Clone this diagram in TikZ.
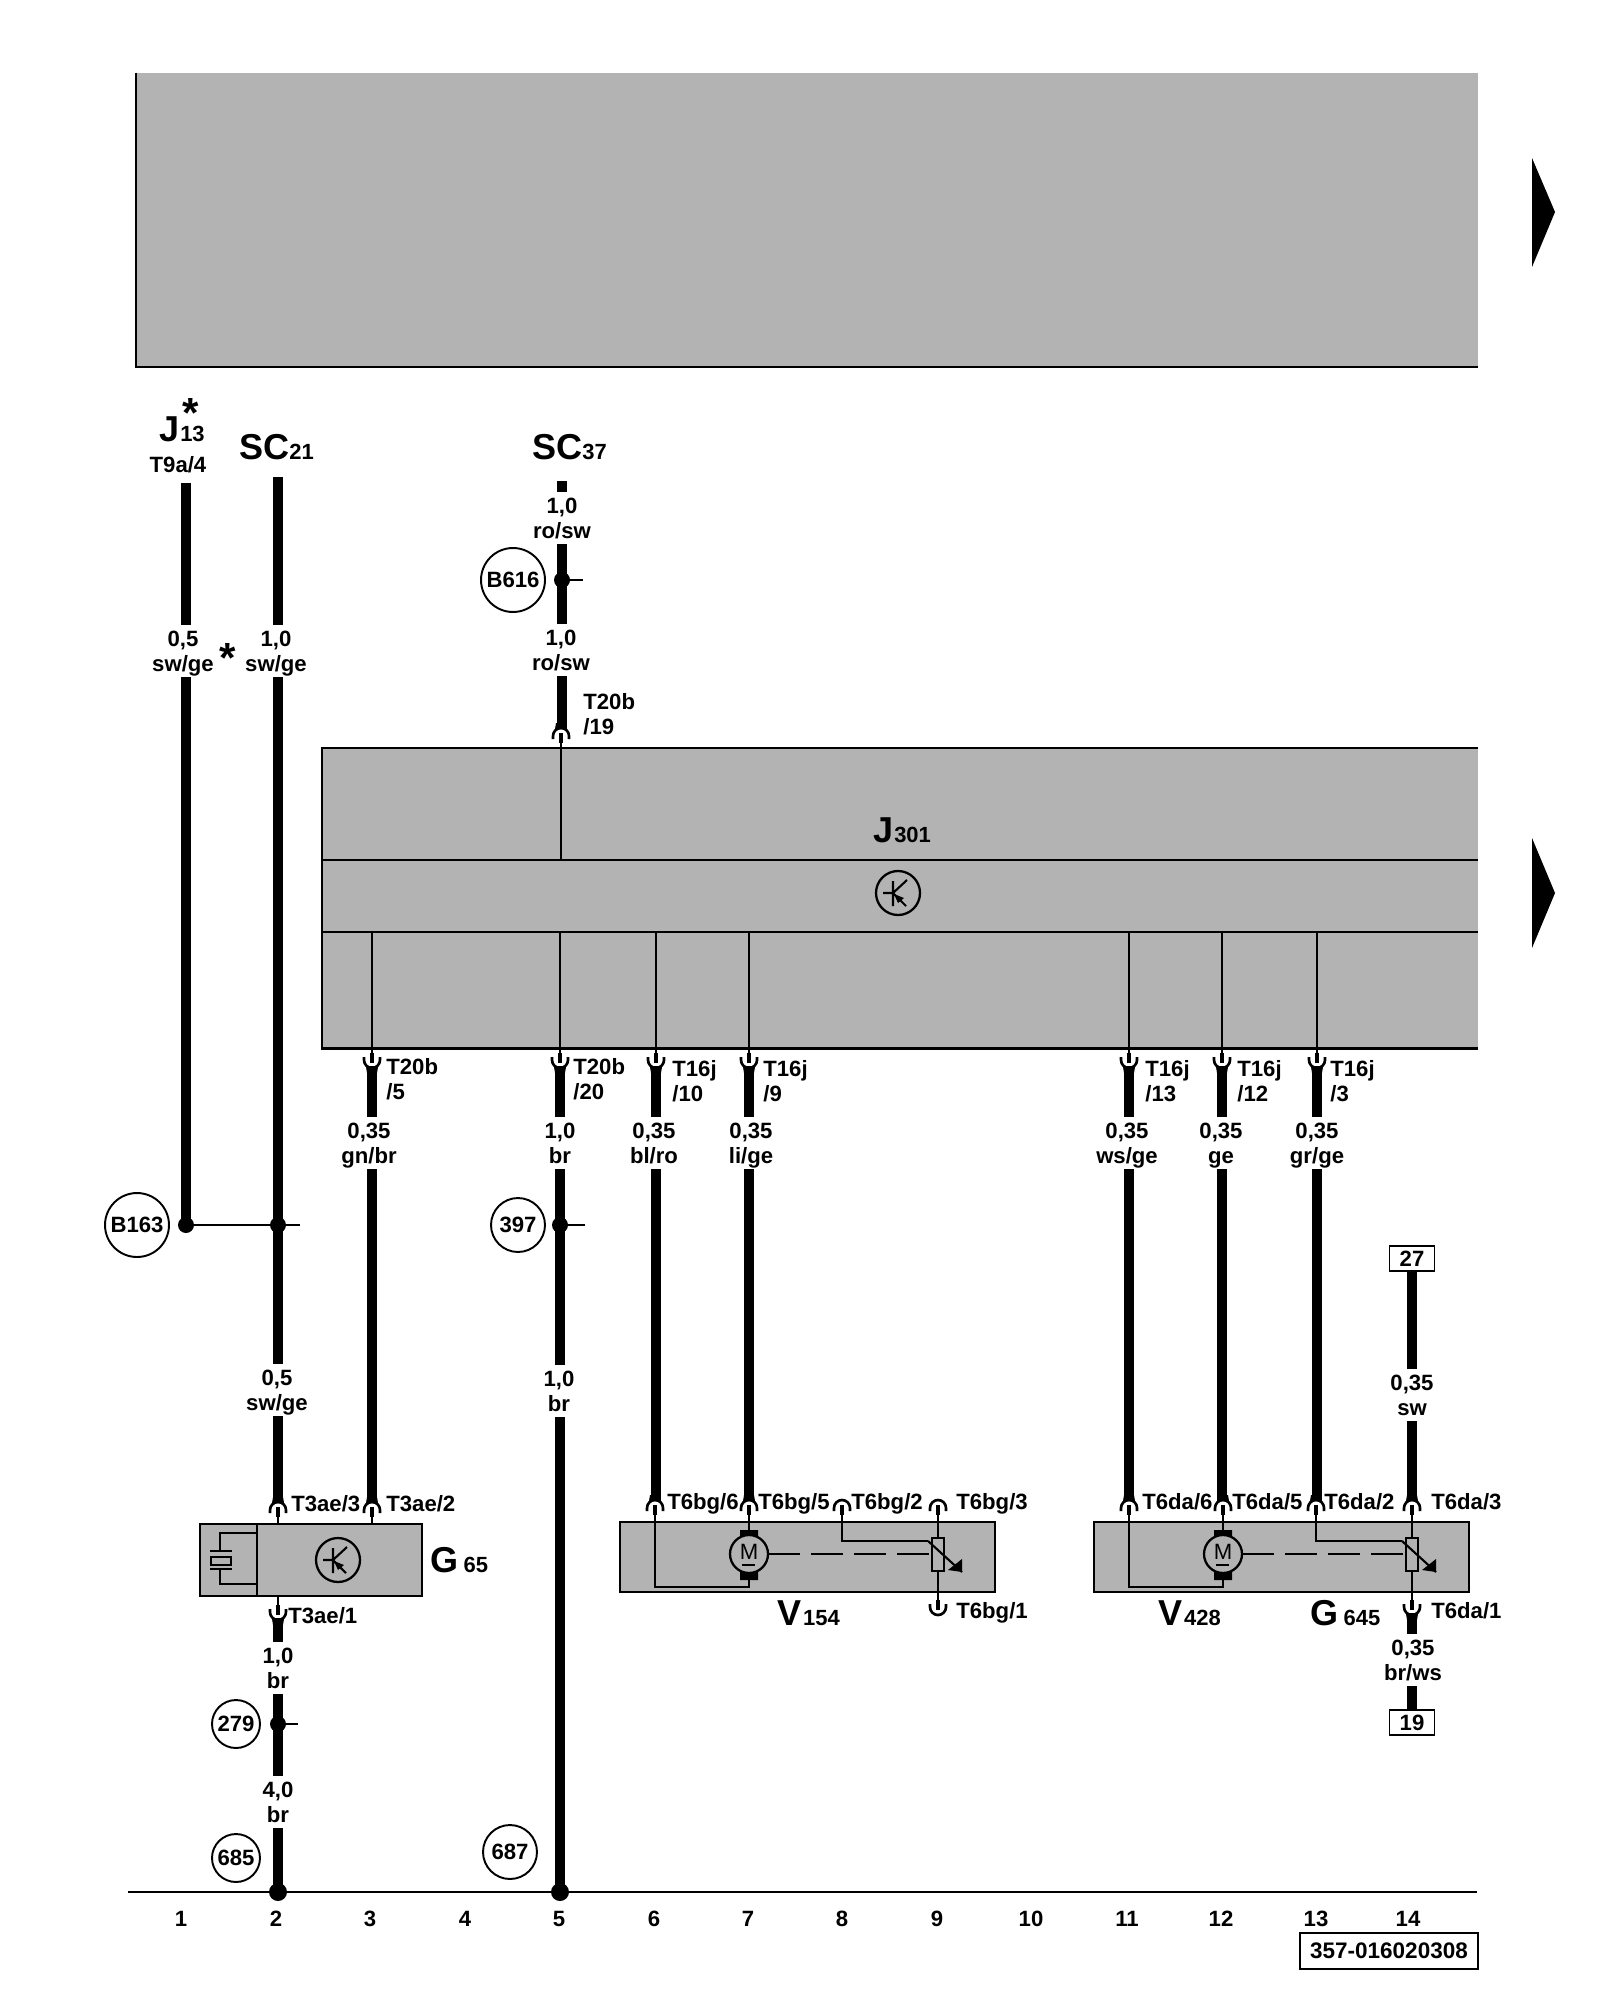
\documentclass[tikz,border=0pt]{standalone}
\usepackage{fontspec}
\setmainfont{Liberation Sans}
\definecolor{boxgray}{HTML}{B3B3B3}
\newcommand{\namefont}{\fontsize{20.5}{22}\selectfont}
\newcommand{\subfont}{\fontsize{12.5}{14}\selectfont}
\tikzset{
    every node/.style = {font=\bfseries\fontsize{12.6}{14.2}\selectfont, inner sep=0, align=center},
    thinline/.style = {line width=1.2pt, black},
    wire/.style = {line width=5.8pt, black},
    pinline/.style = {line width=2.3pt, black},
    dot/.style = {circle, fill=black, minimum size=#1*0.04cm},
    tag/.style = {circle, draw, line width=1.1pt, minimum size=#1*0.04cm},
    wirelab/.style = {fill=white, text height=26.2pt, text depth=3pt},
    pinlab/.style = {anchor=base west},
    compbox/.style = {draw, line width=1.3pt, fill=boxgray},
    starlab/.style = {anchor=base, font=\bfseries\fontsize{24}{24}\selectfont},
    sockettop/.pic = {
        \draw [pinline] (0, -3) -- (0, 7);
        \draw [line width=1.5pt] (-8, 3) -- (-8, 0) arc [start angle=180, end angle=0, radius=0.16cm] -- (8, 3);
    },
    socketbot/.pic = {
        \draw [pinline] (0, 3) -- (0, -7);
        \draw [line width=1.5pt] (-8, -3) -- (-8, 0) arc [start angle=180, end angle=360, radius=0.16cm] -- (8, -3);
    },
    flaretop/.pic = {
        \fill (-6, -7) -- (6, -7) -- (5, -13) -- (-5, -13) -- cycle;
    },
    flarebot/.pic = {
        \fill (-6, 7) -- (6, 7) -- (5, 13) -- (-5, 13) -- cycle;
    },
    transistor/.pic = {
        \draw [line width=1.3pt] (0, 0) circle [radius=0.44cm];
        \draw [thinline] (-15, 0) -- (-5, 0) (-5, -12) -- (-5, 13) (-5, 0) -- (9, -13) (-5, 0) -- (8, 13);
        \fill (-4, 1) -- (6, 5) -- (0, 10) -- cycle;
    },
    motor/.pic = {
        \fill (-9, -24) rectangle (9, -16) (-9, 18) rectangle (9, 26);
        \draw [line width=1.3pt, fill=boxgray] (0, 0) circle [radius=0.38cm];
        \node [font=\fontsize{12.6}{14}\selectfont] at (0, -2) {M};
        \draw [thinline] (-7, 11) -- (6, 11);
    },
    sensor/.pic = {
        \draw [thinline] (-6, -16) rectangle (6, 17);
        \draw [thinline] (-10, -13) -- (24, 18);
        \fill (10, 16) -- (24, 18) -- (24, 5) -- cycle;
    }
}
\begin{document}
\begin{tikzpicture}[x=0.02cm, y=-0.02cm]
    \useasboundingbox (0, 0) rectangle (1600, 2000);

    \node [fill=boxgray, minimum width=1342*0.02cm, minimum height=294*0.02cm] (topbox) at (807, 220) {};
    \draw [thinline, line width=1.3pt] (topbox.north west) -- (topbox.south west) -- (topbox.south east);
    \node [fill=boxgray, minimum width=1156*0.02cm, minimum height=300*0.02cm] (j301) at (900, 898) {};
    \draw [thinline, line width=1.3pt] (j301.north east) -- (j301.north west) -- (j301.south west) -- (j301.south east);
    \coordinate (rowal) at (322, 860);
    \coordinate (rowar) at (1478, 860);
    \coordinate (rowbl) at (322, 932);
    \coordinate (rowbr) at (1478, 932);
    \draw [thinline, line width=1.3pt] (rowal) -- (rowar) (rowbl) -- (rowbr);
    \node [pinlab, font=\bfseries\namefont] (j301name) at (873, 842) {J\kern0.5pt{\subfont 301}};
    \pic at (898, 893) {transistor};

    \fill (1532, 158) -- (1555, 212) -- (1532, 267) -- cycle;
    \fill (1532, 838) -- (1555, 893) -- (1532, 948) -- cycle;

    \node [pinlab, font=\bfseries\namefont] (j13) at (159, 441) {J\kern0.5pt{\subfont 13}};
    \node [starlab] (stara) at (191, 427) {*};
    \node (t9a) at (178, 465) {T9a/4};
    \node [pinlab, font=\bfseries\namefont] (sc21) at (239, 459) {SC{\subfont 21}};
    \node [pinlab, font=\bfseries\namefont] (sc37) at (532, 459) {SC{\subfont 37}};
    \node [starlab] (starb) at (228, 672) {*};

    \coordinate (w1top) at (186, 483);
    \coordinate (w2top) at (278, 477);
    \coordinate (w2end) at (278, 1501);
    \coordinate (w2low) at (278, 1618);
    \coordinate (w2gnd) at (278, 1892);
    \coordinate (s37top) at (562, 481);
    \coordinate (s37end) at (562, 729);
    \node [dot=8] (w1dot) at (186, 1225) {};
    \draw [wire] (w1top) -- (w1dot.center);
    \draw [wire] (w2top) -- (w2end);
    \draw [wire] (w2low) -- (w2gnd);
    \draw [wire] (s37top) -- (s37end);

    \foreach \n/\x/\y/\txt in {
        la/183/651/{0,5\\sw/ge},
        lb/276/651/{1,0\\sw/ge},
        lc/277/1390/{0,5\\sw/ge},
        ld/278/1668/{1,0\\br},
        le/278/1802/{4,0\\br},
        lf/562/518/{1,0\\ro/sw},
        lg/561/650/{1,0\\ro/sw}} {
        \node [wirelab] (\n) at (\x, \y) {\txt};
    }

    \foreach \n/\x/\lx/\txt/\tx/\ty/\ta/\tb in {
        w3/372/369/{0,35\\gn/br}/386/1074.5/T20b/{/5},
        w5/560/560/{1,0\\br}/573/1074.5/T20b/{/20},
        w6/656/654/{0,35\\bl/ro}/672/1076.5/T16j/{/10},
        w7/749/751/{0,35\\li/ge}/763/1076.5/T16j/{/9},
        w11/1129/1127/{0,35\\ws/ge}/1145/1076.5/T16j/{/13},
        w12/1222/1221/{0,35\\ge}/1237/1076.5/T16j/{/12},
        w13/1317/1317/{0,35\\gr/ge}/1330/1076.5/T16j/{/3}} {
        \coordinate (\n in) at (\x, 932);
        \coordinate (\n sock) at (\x, 1060);
        \coordinate (\n top) at (\x, 1066);
        \coordinate (\n end) at (\x, 1501);
        \draw [thinline] (\n in) -- (\n sock);
        \pic at (\n sock) {socketbot};
        \pic at (\n sock) {flarebot};
        \draw [wire] (\n top) -- (\n end);
        \node [wirelab] (\n lab) at (\lx, 1143) {\txt};
        \node [pinlab] (\n ta) at (\tx, \ty) {\ta};
        \node [pinlab] (\n tb) at (\tx, \ty + 25) {\tb};
    }

    \coordinate (w5top) at (560, 1400);
    \coordinate (w5gnd) at (560, 1892);
    \draw [wire] (w5top) -- (w5gnd);
    \node [wirelab] (w5labb) at (559, 1391) {1,0\\br};

    \coordinate (s37sock) at (561, 736);
    \coordinate (s37in) at (561, 860);
    \draw [thinline] (s37sock) -- (s37in);
    \pic at (s37sock) {sockettop};
    \pic at (s37sock) {flaretop};
    \node [pinlab] (t20a) at (583, 709.5) {T20b};
    \node [pinlab] (t20b) at (583, 734.5) {/19};

    \node [dot=8] (w2dot) at (278, 1225) {};
    \node [dot=8] (w5dot) at (560, 1225) {};
    \node [dot=8] (s37dot) at (562, 580) {};
    \node [dot=8] (w2dotb) at (278, 1724) {};
    \coordinate (w2stub) at (300, 1225);
    \coordinate (w5stub) at (585, 1225);
    \coordinate (s37stub) at (583, 580);
    \coordinate (w2stubb) at (298, 1724);
    \draw [thinline] (w1dot) -- (w2dot) -- (w2stub);
    \draw [thinline] (w5dot) -- (w5stub);
    \draw [thinline] (s37dot) -- (s37stub);
    \draw [thinline] (w2dotb) -- (w2stubb);

    \node [tag=32] (b163) at (137, 1225) {B163};
    \node [tag=32] (b616) at (513, 580) {B616};
    \node [tag=27] (n397) at (518, 1225) {397};
    \node [tag=24] (n279) at (236, 1724) {279};
    \node [tag=24] (n685) at (236, 1858) {685};
    \node [tag=27] (n687) at (510, 1852) {687};

    \node [compbox, minimum width=222*0.02cm, minimum height=72*0.02cm] (g65) at (311, 1560) {};
    \coordinate (g65div) at (257, 1524);
    \coordinate (g65divb) at (257, 1596);
    \draw [thinline] (g65div) -- (g65divb);
    \draw [thinline] (257, 1533) -- (220, 1533) -- (220, 1551);
    \draw [thinline] (257, 1584) -- (220, 1584) -- (220, 1569);
    \draw [thinline] (210, 1551) -- (232, 1551) (210, 1569) -- (232, 1569);
    \draw [thinline] (211, 1557) rectangle (231, 1565);
    \pic at (338, 1560) {transistor};
    \node [pinlab, font=\bfseries\namefont] (g65name) at (430, 1572) {G\kern3pt{\subfont 65}};

    \foreach \x/\n in {278/ga, 372/gb} {
        \coordinate (\n) at (\x, 1510);
        \coordinate (\n box) at (\x, 1524);
        \draw [thinline] (\n) -- (\n box);
        \pic at (\n) {sockettop};
        \pic at (\n) {flaretop};
    }
    \coordinate (gc) at (278, 1612);
    \coordinate (gcbox) at (278, 1596);
    \draw [thinline] (gcbox) -- (gc);
    \pic at (gc) {socketbot};
    \pic at (gc) {flarebot};
    \node [pinlab] (t3c) at (291, 1511.5) {T3ae/3};
    \node [pinlab] (t3b) at (386, 1511.5) {T3ae/2};
    \node [pinlab] (t3a) at (288, 1623.5) {T3ae/1};

    \foreach \i/\cx/\a/\b/\c/\d/\la/\lb/\lc/\ld in {
        bg/807.5/655/749/842/938/667/758/851/956,
        da/1281.5/1129/1223/1316/1412/1142/1232/1324/1431} {
        \node [compbox, minimum width=375*0.02cm, minimum height=70*0.02cm] (box\i) at (\cx, 1557) {};
        \coordinate (\i a) at (\a, 1508);
        \coordinate (\i b) at (\b, 1508);
        \coordinate (\i c) at (\c, 1508);
        \coordinate (\i d) at (\d, 1508);
        \coordinate (\i e) at (\d, 1607);
        \coordinate (\i m) at (\b, 1554);
        \coordinate (\i s) at (\d, 1554);
        \draw [thinline] (\i a) |- (\b, 1587) -- (\b, 1580);
        \draw [thinline] (\i b) -- (\i m);
        \draw [thinline] (\i c) |- (\d - 10, 1541);
        \draw [thinline] (\i d) -- (\i e);
        \draw [thinline, dash pattern=on 32*0.02cm off 11*0.02cm] (\b + 19, 1554) -- (\d - 6, 1554);
        \pic at (\i m) {motor};
        \fill [boxgray] (\d - 6, 1538) rectangle (\d + 6, 1571);
        \pic at (\i s) {sensor};
        \foreach \s in {a, b, c, d} {
            \pic at (\i \s) {sockettop};
        }
        \pic at (\i e) {socketbot};
        \node [pinlab] at (\la, 1509.5) {T6\i/6};
        \node [pinlab] at (\lb, 1509.5) {T6\i/5};
        \node [pinlab] at (\lc, 1509.5) {T6\i/2};
        \node [pinlab] at (\ld, 1509.5) {T6\i/3};
        \node [pinlab] at (\ld, 1618) {T6\i/1};
    }
    \foreach \p in {bga, bgb, daa, dab, dac, dad} {
        \pic at (\p) {flaretop};
    }
    \pic at (dae) {flarebot};
    \node [pinlab, font=\bfseries\namefont] (v154) at (777, 1625) {V\kern1pt{\subfont 154}};
    \node [pinlab, font=\bfseries\namefont] (v428) at (1158, 1625) {V\kern1pt{\subfont 428}};
    \node [pinlab, font=\bfseries\namefont] (g645) at (1310, 1625) {G\kern3pt{\subfont 645}};

    \node [draw, line width=1.1pt, minimum width=45*0.02cm, minimum height=25*0.02cm] (box27) at (1412, 1258.5) {27};
    \node [draw, line width=1.1pt, minimum width=45*0.02cm, minimum height=25*0.02cm] (box19) at (1412, 1722.5) {19};
    \coordinate (w14end) at (1412, 1501);
    \coordinate (w14low) at (1412, 1613);
    \draw [wire] (box27) -- (w14end);
    \draw [wire] (w14low) -- (box19);
    \node [wirelab] (w14a) at (1412, 1395) {0,35\\sw};
    \node [wirelab] (w14b) at (1413, 1660) {0,35\\br/ws};

    \coordinate (gndl) at (128, 1892);
    \coordinate (gndr) at (1477, 1892);
    \draw [thinline, line width=1.3pt] (gndl) -- (gndr);
    \node [dot=9] (gnda) at (278, 1892) {};
    \node [dot=9] (gndb) at (560, 1892) {};
    \foreach \t/\x in {1/181, 2/276, 3/370, 4/465, 5/559, 6/654, 7/748, 8/842, 9/937, 10/1031, 11/1127, 12/1221, 13/1316, 14/1408} {
        \node (col\t) at (\x, 1919) {\t};
    }
    \node [draw, line width=1.3pt, minimum width=178*0.02cm, minimum height=36*0.02cm, font=\bfseries\fontsize{12.8}{14}\selectfont] (docno) at (1389, 1951) {357-016020308};
\end{tikzpicture}
\end{document}
